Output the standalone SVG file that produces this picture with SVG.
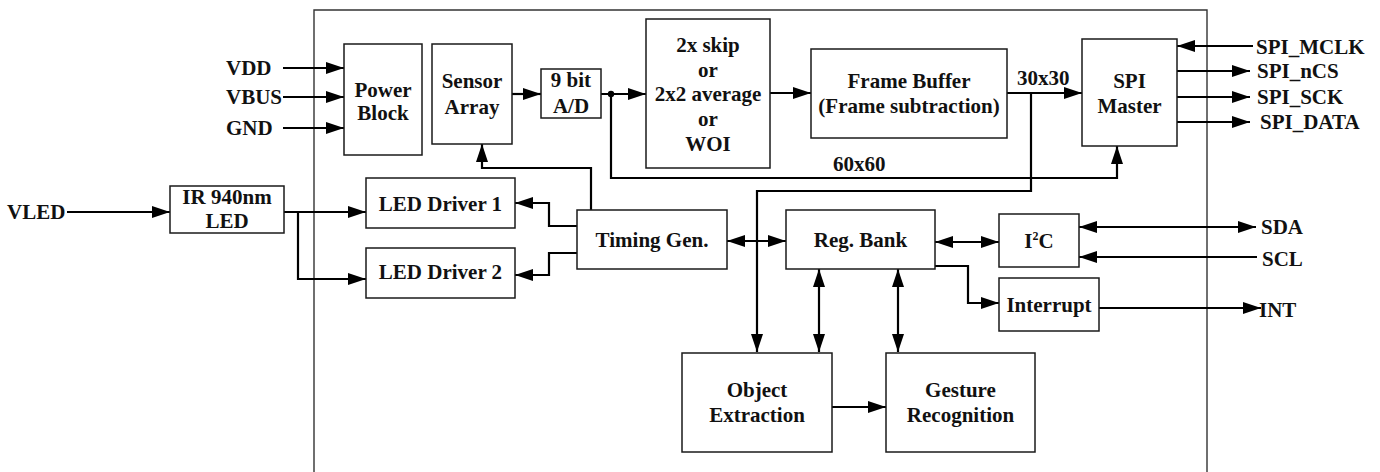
<svg xmlns="http://www.w3.org/2000/svg" width="1380" height="472" viewBox="0 0 1380 472">
<defs>
<marker id="ah" markerUnits="userSpaceOnUse" markerWidth="18" markerHeight="12" refX="18" refY="6" orient="auto-start-reverse" viewBox="0 0 18 12">
<path d="M0,0 L18,6 L0,12 z" fill="#000"/>
</marker>
</defs>
<style>
.box{fill:#fff;stroke:#1a1a1a;stroke-width:1.5}
.frame{fill:none;stroke:#333;stroke-width:1.4}
.c{fill:none;stroke:#000;stroke-width:2.2}
.a{marker-end:url(#ah)}
.d{marker-start:url(#ah);marker-end:url(#ah)}
text{font-family:"Liberation Serif","Times New Roman",serif;font-weight:bold;font-size:21px;fill:#111}
.m{text-anchor:middle}
</style>
<rect width="1380" height="472" fill="#fff"/>
<path class="frame" d="M314,480 V10 H1207 V480"/>

<g id="connectors">
<path class="c a" d="M283,68 H344"/>
<path class="c a" d="M283,97 H344"/>
<path class="c a" d="M283,128 H344"/>
<path class="c a" d="M512,94 H541"/>
<path class="c a" d="M601,94 H646"/>
<circle cx="611" cy="94" r="3.2" fill="#000"/>
<path class="c a" d="M611,94 V178 H1117 V146"/>
<path class="c a" d="M770,93 H811"/>
<path class="c a" d="M1007,93 H1082"/>
<path class="c a" d="M1031,93 V191 H757 V352"/>
<path class="c a" d="M1253,46 H1177"/>
<path class="c a" d="M1177,71 H1250"/>
<path class="c a" d="M1177,97 H1250"/>
<path class="c a" d="M1177,122 H1250"/>
<path class="c a" d="M591,210 V168 H482 V144"/>
<path class="c a" d="M577,226 H549 V203 H515"/>
<path class="c a" d="M577,253 H549 V275 H515"/>
<path class="c a" d="M67,212 H170"/>
<path class="c a" d="M284,212 H366"/>
<path class="c a" d="M298,212 V279 H366"/>
<path class="c d" d="M727,241 H786"/>
<path class="c d" d="M935,242 H999"/>
<path class="c a" d="M935,266 H968 V303 H999"/>
<path class="c d" d="M819,269 V352"/>
<path class="c d" d="M898,269 V352"/>
<path class="c a" d="M832,407 H886"/>
<path class="c d" d="M1079,227 H1256"/>
<path class="c a" d="M1257,257 H1079"/>
<path class="c a" d="M1099,308 H1261"/>
</g>

<g id="power-block"><rect class="box" x="344" y="44" width="78" height="111"/><text class="m" x="383" y="97">Power</text><text class="m" x="383" y="120">Block</text></g>
<g id="sensor-array"><rect class="box" x="432" y="44" width="80" height="100"/><text class="m" x="472" y="88">Sensor</text><text class="m" x="472" y="114">Array</text></g>
<g id="ad"><rect class="box" x="541" y="69" width="60" height="49"/><text class="m" x="571" y="87">9 bit</text><text class="m" x="571" y="113">A/D</text></g>
<g id="skip"><rect class="box" x="646" y="19" width="124" height="149"/><text class="m" x="708" y="52">2x skip</text><text class="m" x="708" y="76.5">or</text><text class="m" x="708" y="101">2x2 average</text><text class="m" x="708" y="126">or</text><text class="m" x="708" y="151">WOI</text></g>
<g id="frame-buffer"><rect class="box" x="811" y="49" width="196" height="89"/><text class="m" x="909" y="88">Frame Buffer</text><text class="m" x="909" y="113">(Frame subtraction)</text></g>
<g id="spi-master"><rect class="box" x="1082" y="39" width="95" height="107"/><text class="m" x="1129.5" y="88">SPI</text><text class="m" x="1129.5" y="113">Master</text></g>
<g id="ir-led"><rect class="box" x="170" y="186" width="114" height="47"/><text class="m" x="227" y="204">IR 940nm</text><text class="m" x="227" y="228">LED</text></g>
<g id="led-driver-1"><rect class="box" x="366" y="178" width="149" height="50"/><text class="m" x="440.5" y="211">LED Driver 1</text></g>
<g id="led-driver-2"><rect class="box" x="366" y="248" width="149" height="50"/><text class="m" x="440.5" y="279">LED Driver 2</text></g>
<g id="timing-gen"><rect class="box" x="577" y="210" width="150" height="59"/><text class="m" x="652" y="247">Timing Gen.</text></g>
<g id="reg-bank"><rect class="box" x="786" y="210" width="149" height="59"/><text class="m" x="860.5" y="247">Reg. Bank</text></g>
<g id="i2c"><rect class="box" x="999" y="214" width="80" height="53"/><text class="m" x="1039" y="248">I<tspan font-size="12" dy="-8">2</tspan><tspan dy="8">C</tspan></text></g>
<g id="interrupt"><rect class="box" x="999" y="278" width="100" height="53"/><text class="m" x="1049" y="312">Interrupt</text></g>
<g id="object-extraction"><rect class="box" x="682" y="353" width="150" height="99"/><text class="m" x="757" y="397">Object</text><text class="m" x="757" y="422">Extraction</text></g>
<g id="gesture-recognition"><rect class="box" x="886" y="353" width="149" height="99"/><text class="m" x="960.5" y="397">Gesture</text><text class="m" x="960.5" y="422">Recognition</text></g>

<g id="labels">
<text x="226" y="75">VDD</text>
<text x="226" y="104">VBUS</text>
<text x="226" y="135">GND</text>
<text x="7" y="219">VLED</text>
<text x="1017" y="85">30x30</text>
<text x="833" y="171">60x60</text>
<text x="1256" y="54">SPI_MCLK</text>
<text x="1257" y="78">SPI_nCS</text>
<text x="1257" y="104">SPI_SCK</text>
<text x="1260" y="129">SPI_DATA</text>
<text x="1261" y="234">SDA</text>
<text x="1262" y="266">SCL</text>
<text x="1259" y="317">INT</text>
</g>
</svg>
